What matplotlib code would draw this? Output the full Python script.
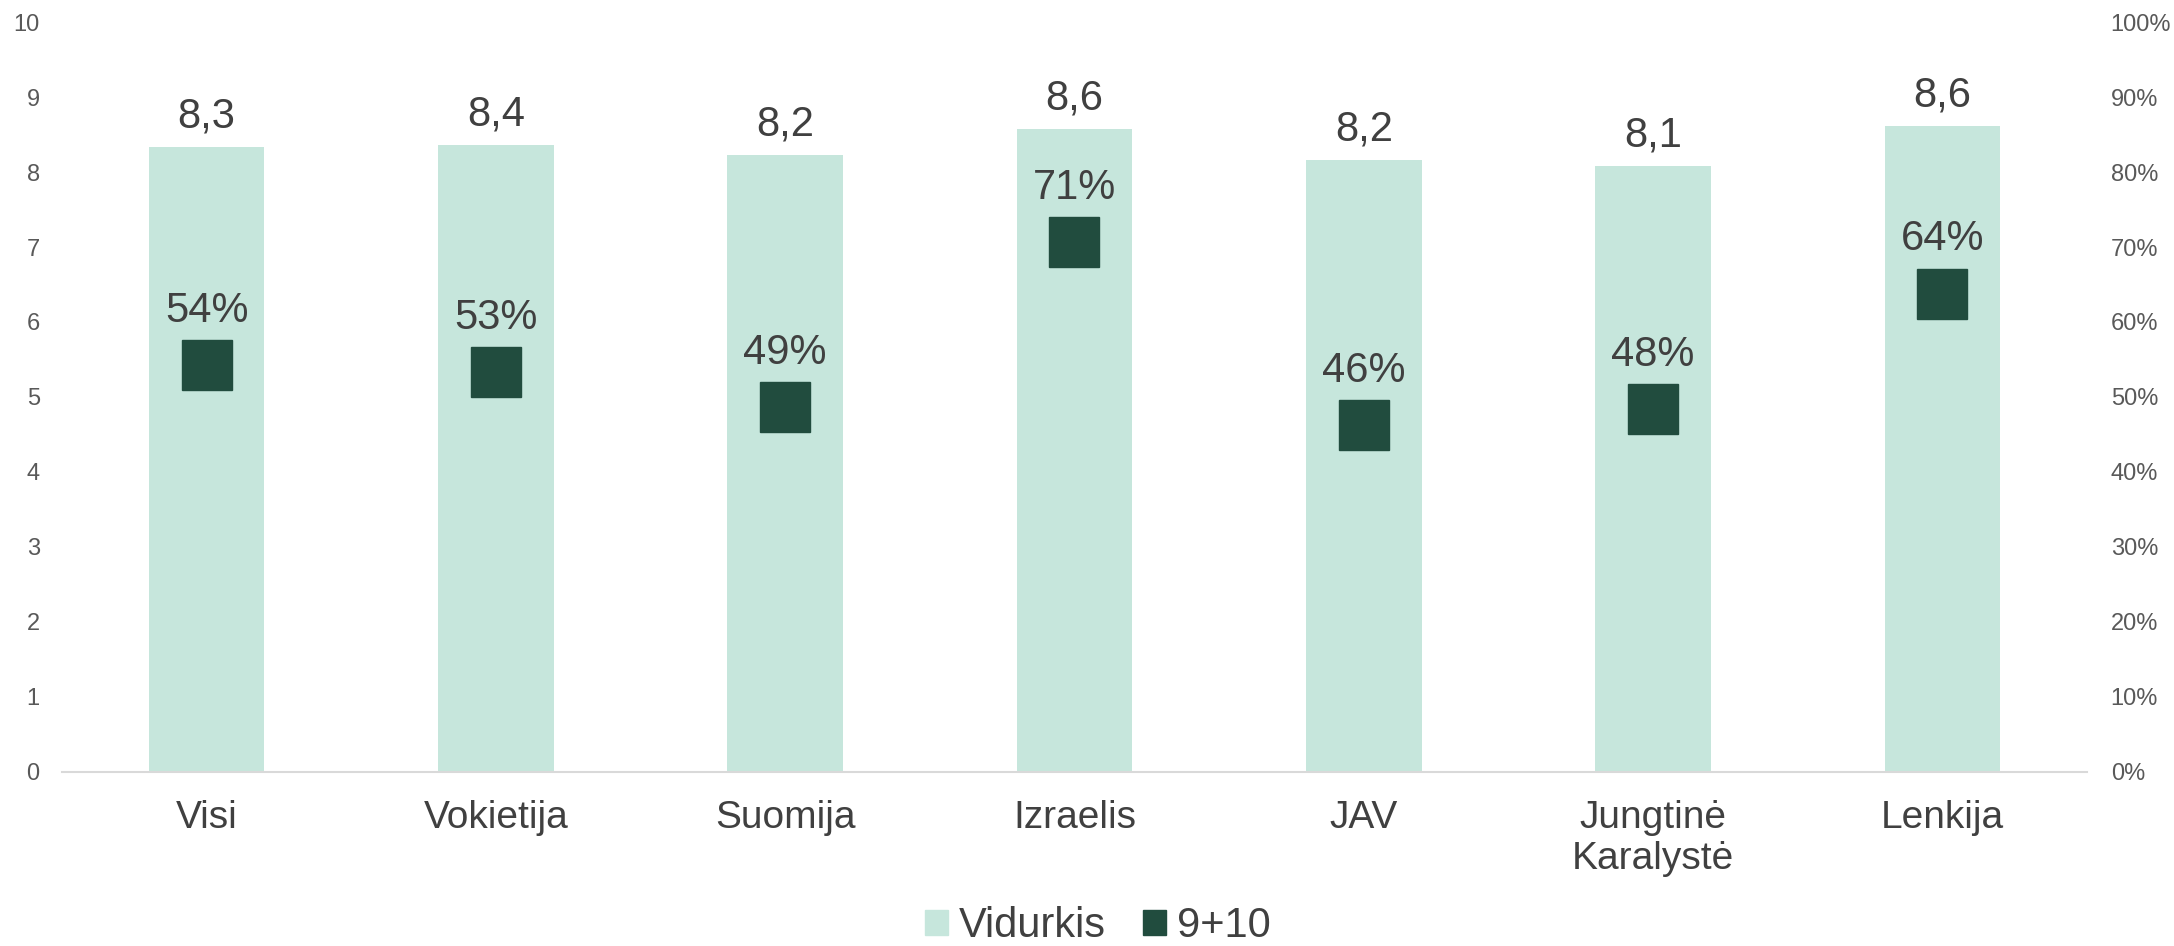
import matplotlib
matplotlib.use('Agg')
import matplotlib.pyplot as plt
from matplotlib.ticker import PercentFormatter
from matplotlib.patches import Patch

# duomenys
salys = ['Visi', 'Vokietija', 'Suomija', 'Izraelis', 'JAV', 'Jungtinė\nKaralystė', 'Lenkija']
vidurkis = [8.33, 8.36, 8.23, 8.57, 8.16, 8.08, 8.61]
devyni_desimt = [0.542, 0.533, 0.486, 0.707, 0.462, 0.484, 0.638]

BAR_COLOR = '#C6E6DC'
MARK_COLOR = '#214C3E'
TEXT_COLOR = '#404040'
TICK_COLOR = '#595959'

plt.rcParams['font.family'] = ['Liberation Sans', 'DejaVu Sans']

fig = plt.figure(figsize=(21.74, 9.46), dpi=100)
ax = fig.add_axes([0.0285, 0.184, 0.9315, 0.7927])

x = list(range(len(salys)))
ax.bar(x, vidurkis, width=0.4, color=BAR_COLOR, zorder=2)
ax.set_xlim(-0.5, len(salys) - 0.5)
ax.set_ylim(0, 10)
ax.set_yticks(range(0, 11))
ax.set_xticks(x)
ax.set_xticklabels(salys, fontsize=28, color=TEXT_COLOR, linespacing=1.2)
ax.tick_params(axis='y', length=0, labelsize=17, labelcolor=TICK_COLOR, pad=16)
ax.tick_params(axis='x', length=0, pad=20)
for s in ['top', 'right', 'left']:
    ax.spines[s].set_visible(False)
ax.spines['bottom'].set_color('#D9D9D9')
ax.spines['bottom'].set_linewidth(1.5)

for xi, v in zip(x, vidurkis):
    ax.annotate(f'{v:.1f}'.replace('.', ','), (xi, v), xytext=(0, 14),
                textcoords='offset points', ha='center', va='baseline',
                fontsize=30, color=TEXT_COLOR)

ax2 = ax.twinx()
ax2.set_ylim(0, 1)
ax2.set_yticks([i / 10 for i in range(11)])
ax2.yaxis.set_major_formatter(PercentFormatter(1.0, decimals=0))
ax2.tick_params(axis='y', length=0, labelsize=17, labelcolor=TICK_COLOR, pad=17)
for s in ['top', 'right', 'left', 'bottom']:
    ax2.spines[s].set_visible(False)

ax2.plot(x, devyni_desimt, linestyle='none', marker='s', markersize=36,
         color=MARK_COLOR, zorder=3)
for xi, p in zip(x, devyni_desimt):
    ax2.annotate(f'{p:.0%}', (xi, p), xytext=(0, 31),
                 textcoords='offset points', ha='center', va='baseline',
                 fontsize=30, color=TEXT_COLOR)

handles = [Patch(color=BAR_COLOR), Patch(color=MARK_COLOR)]
fig.legend(handles, ['Vidurkis', '9+10'], loc='lower center',
           bbox_to_anchor=(0.505, 0.0), ncol=2, frameon=False,
           fontsize=30, labelcolor=TEXT_COLOR, handlelength=0.55,
           handleheight=0.55, handletextpad=0.25, columnspacing=0.9,
           borderpad=0.0, borderaxespad=0.0)

fig.savefig('out.png', dpi=100)
